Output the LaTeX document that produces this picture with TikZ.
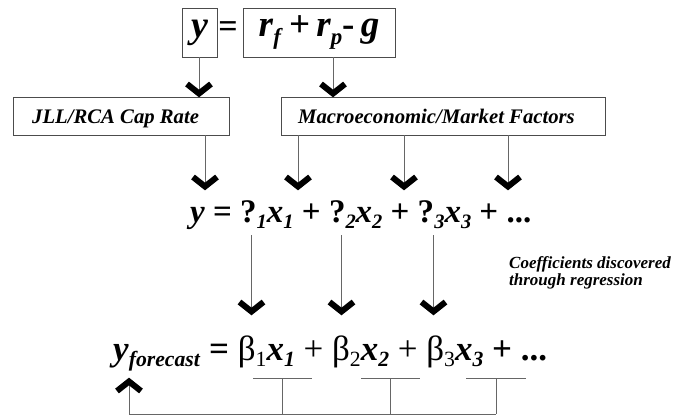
\documentclass[tikz,border=0pt]{standalone}
\usepackage{fontspec}
\setmainfont{Liberation Serif}
\newcommand\dn[1]{\raisebox{-0.42ex}{\scalebox{0.62}{#1}}}
\newcommand\bi[1]{\textbf{\textit{#1}}}
\tikzset{
  box/.style={draw=black!70, line width=0.8pt, inner sep=0pt},
  ln/.style={draw=black!60, line width=0.9pt},
  lbl/.style={font=\fontsize{20.7pt}{24pt}\selectfont\bfseries\itshape, inner sep=0pt},
  chevdown/.pic={\draw[black, line width=6pt, miter limit=10, line cap=butt]
      (-12,-13) -- (0,-3.5) -- (12,-13);},
  chevup/.pic={\draw[black, line width=6pt, miter limit=10, line cap=butt]
      (-12,13) -- (0,3.5) -- (12,13);},
}
\begin{document}
\begin{tikzpicture}[x=1pt,y=-1pt]
\useasboundingbox (0,0) rectangle (678,415);
% top row
\node[box, minimum width=35pt, minimum height=49pt] (ybox) at (199.5,32.5)
  {\fontsize{38pt}{40pt}\selectfont\bi{y}};
\node[inner sep=0pt] (eqs) at (228,30) {\fontsize{34pt}{36pt}\selectfont\textbf{=}};
\node[box, minimum width=152pt, minimum height=49pt] (rbox) at (319,32.5)
  {\fontsize{37pt}{40pt}\selectfont\bi{r}\dn{\bi{f}}\,\textbf{+}\,\bi{r}\dn{\bi{p}}\textbf{-}\,\bi{g}};
% second row
\node[box, minimum width=216pt, minimum height=38pt] (jll) at (121,116) {};
\node[lbl, anchor=base west] (jlltxt) at (32,123) {JLL/RCA Cap Rate};
\node[box, minimum width=324pt, minimum height=38pt] (macro) at (443,116) {};
\node[lbl, anchor=base west] (macrotxt) at (298,123) {Macroeconomic/Market Factors};
\coordinate (a0) at (199,97);
\coordinate (a1) at (333,97);
\draw[ln] (ybox.south -| a0) -- (a0);
\draw[ln] (rbox.south -| a1) -- (a1);
% third row
\coordinate (c1) at (205,190);
\coordinate (c2) at (298,190);
\coordinate (c3) at (404,190);
\coordinate (c4) at (508,190);
\draw[ln] (jll.south -| c1) -- (c1);
\draw[ln] (macro.south -| c2) -- (c2);
\draw[ln] (macro.south -| c3) -- (c3);
\draw[ln] (macro.south -| c4) -- (c4);
\node[anchor=base west, inner sep=0pt] (eq1) at (190,222)
  {\fontsize{33pt}{36pt}\selectfont\bi{y} \textbf{=} \textbf{?}\dn{\bi{1}}\bi{x}\dn{\bi{1}} \textbf{+} \textbf{?}\dn{\bi{2}}\bi{x}\dn{\bi{2}} \textbf{+} \textbf{?}\dn{\bi{3}}\bi{x}\dn{\bi{3}} \textbf{+ ...}};
% coefficient note
\node[anchor=base west, inner sep=0pt, align=left, font=\fontsize{17pt}{17pt}\selectfont\bfseries\itshape] (note) at (509,285)
  {Coefficients discovered\\through regression};
% links to forecast
\coordinate (s1) at (251.5,235);
\coordinate (s2) at (341.5,235);
\coordinate (s3) at (433.5,235);
\coordinate (t1) at (251.5,315);
\coordinate (t2) at (341.5,315);
\coordinate (t3) at (433.5,315);
\draw[ln] (s1) -- (t1);
\draw[ln] (s2) -- (t2);
\draw[ln] (s3) -- (t3);
\node[anchor=base west, inner sep=0pt] (eq2) at (113,360)
  {\fontsize{35pt}{38pt}\selectfont\bi{y}\dn{\bi{forecast}} \textbf{=} β\dn{1}\bi{x}\dn{\bi{1}} + β\dn{2}\bi{x}\dn{\bi{2}} + β\dn{3}\bi{x}\dn{\bi{3}} \textbf{+ ...}};
% feedback
\coordinate (u1a) at (253,378); \coordinate (u1b) at (312,378);
\coordinate (u2a) at (361,378); \coordinate (u2b) at (420,378);
\coordinate (u3a) at (466,378); \coordinate (u3b) at (526,378);
\coordinate (m1) at (282.5,378); \coordinate (m2) at (390.5,378); \coordinate (m3) at (496,378);
\coordinate (b1) at (282.5,414); \coordinate (b2) at (390.5,414); \coordinate (b3) at (496,414);
\coordinate (b0) at (129,414);
\coordinate (up) at (129,378);
\draw[ln] (u1a) -- (u1b);
\draw[ln] (u2a) -- (u2b);
\draw[ln] (u3a) -- (u3b);
\draw[ln] (m1) -- (b1);
\draw[ln] (m2) -- (b2);
\draw[ln] (m3) -- (b3);
\draw[ln] (b3) -- (b0) -- (up);
% chevrons
\foreach \p in {a0,a1,c1,c2,c3,c4,t1,t2,t3} { \pic at (\p) {chevdown}; }
\pic at (up) {chevup};
\end{tikzpicture}
\end{document}
